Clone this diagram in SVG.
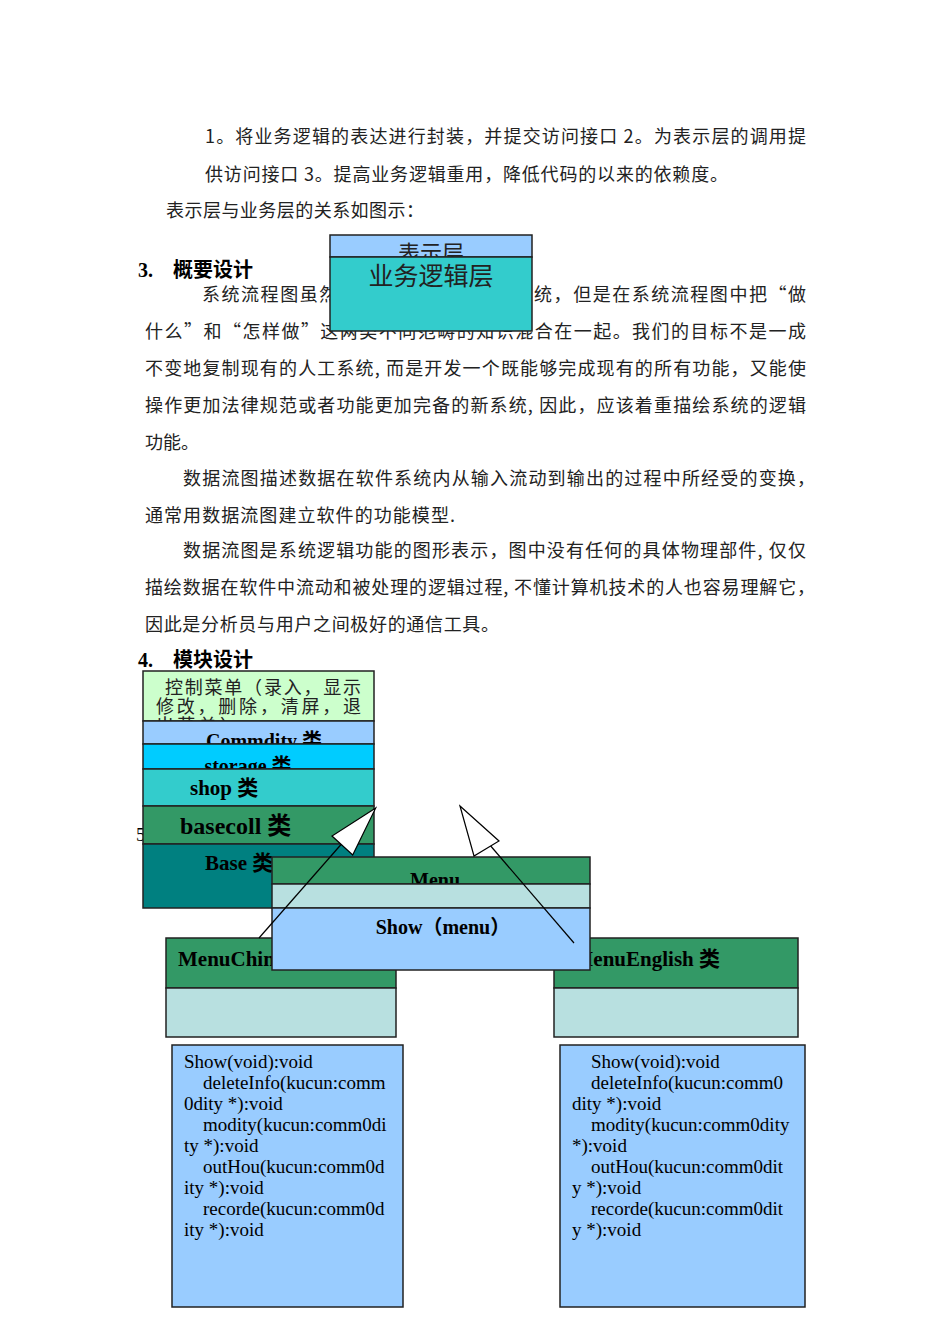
<svg xmlns="http://www.w3.org/2000/svg" width="950" height="1344" viewBox="0 0 950 1344">
<style>
.b{font-family:"Noto Sans CJK SC","Noto Sans",sans-serif;font-size:18px;fill:#222}
.h{font-family:"Liberation Serif","Noto Sans CJK SC",serif;font-size:20px;font-weight:bold;fill:#000}
.l{font-family:"Liberation Serif","Noto Sans CJK SC",serif;font-weight:bold;fill:#000}
.m{font-family:"Liberation Serif",serif;font-size:19px;fill:#000}
rect{stroke:#222;stroke-width:1.5}
.c{stroke:#000;stroke-width:1.2;fill:none}
.a{stroke:#000;stroke-width:1.2;fill:#fff}
</style>
<defs>
<clipPath id="c1"><rect x="143" y="671" width="231" height="50"/></clipPath>
<clipPath id="c2"><rect x="143" y="721" width="231" height="23"/></clipPath>
<clipPath id="c3"><rect x="143" y="744" width="231" height="25"/></clipPath>
<clipPath id="c4"><rect x="330" y="235" width="202" height="22"/></clipPath>
<clipPath id="c5"><rect x="272" y="857" width="318" height="27"/></clipPath>
</defs>
<rect width="950" height="1344" fill="#fff" style="stroke:none"/>
<g id="text">
<text class="b" x="205" y="143" textLength="601">1。将业务逻辑的表达进行封装，并提交访问接口 2。为表示层的调用提</text>
<text class="b" x="205" y="181" textLength="523">供访问接口 3。提高业务逻辑重用，降低代码的以来的依赖度。</text>
<text class="b" x="166" y="217" textLength="258">表示层与业务层的关系如图示：</text>
<text class="h" x="138" y="277">3.</text><text class="h" x="173" y="277">概要设计</text>
<text class="b" x="202" y="301" textLength="604">系统流程图虽然形象地描绘出了物理系统，但是在系统流程图中把“做</text>
<text class="b" x="145" y="338" textLength="661">什么”和“怎样做”这两类不同范畴的知识混合在一起。我们的目标不是一成</text>
<text class="b" x="145" y="375" textLength="661">不变地复制现有的人工系统, 而是开发一个既能够完成现有的所有功能，又能使</text>
<text class="b" x="145" y="412" textLength="661">操作更加法律规范或者功能更加完备的新系统, 因此，应该着重描绘系统的逻辑</text>
<text class="b" x="145" y="449">功能。</text>
<text class="b" x="183" y="485" textLength="632">数据流图描述数据在软件系统内从输入流动到输出的过程中所经受的变换，</text>
<text class="b" x="145" y="522" textLength="310">通常用数据流图建立软件的功能模型.</text>
<text class="b" x="183" y="557" textLength="623">数据流图是系统逻辑功能的图形表示，图中没有任何的具体物理部件, 仅仅</text>
<text class="b" x="145" y="594" textLength="670">描绘数据在软件中流动和被处理的逻辑过程, 不懂计算机技术的人也容易理解它，</text>
<text class="b" x="145" y="631" textLength="354">因此是分析员与用户之间极好的通信工具。</text>
<text class="h" x="138" y="667">4.</text><text class="h" x="173" y="667">模块设计</text>
<text class="m" x="136" y="841">5</text>
</g>
<g id="layers">
<rect x="330" y="235" width="202" height="22" fill="#99ccff"/>
<text class="b" x="431" y="261" style="font-size:22px" text-anchor="middle" clip-path="url(#c4)">表示层</text>
<rect x="330" y="257" width="202" height="74" fill="#33cccc"/>
<text class="b" x="431" y="285" style="font-size:25px" text-anchor="middle">业务逻辑层</text>
</g>
<g id="modules">
<rect x="143" y="671" width="231" height="50" fill="#ccffcc"/>
<g clip-path="url(#c1)">
<text class="b" x="165" y="694" textLength="196">控制菜单（录入，显示</text>
<text class="b" x="156" y="713" textLength="205">修改，删除，清屏，退</text>
<text class="b" x="156" y="732" textLength="82">出菜单）</text>
</g>
<rect x="143" y="721" width="231" height="23" fill="#99ccff"/>
<text class="l" x="264" y="748" font-size="20" text-anchor="middle" clip-path="url(#c2)">Commdity 类</text>
<rect x="143" y="744" width="231" height="25" fill="#00ccff"/>
<text class="l" x="248" y="773" font-size="20" text-anchor="middle" clip-path="url(#c3)">storage 类</text>
<rect x="143" y="769" width="231" height="37" fill="#33cccc"/>
<text class="l" x="190" y="795" font-size="21">shop 类</text>
<rect x="143" y="806" width="231" height="38" fill="#339966"/>
<text class="l" x="180" y="834" font-size="24">basecoll 类</text>
<rect x="143" y="844" width="231" height="64" fill="#008080"/>
<text class="l" x="205" y="870" font-size="21">Base 类</text>
</g>
<g id="menuChinese">
<rect x="166" y="938" width="230" height="50" fill="#339966"/>
<rect x="166" y="988" width="230" height="49" fill="#b8e0e0"/>
<text class="l" x="178" y="966" font-size="21">MenuChinese 类</text>
</g>
<g id="menuEnglish">
<rect x="554" y="938" width="244" height="50" fill="#339966"/>
<rect x="554" y="988" width="244" height="49" fill="#b8e0e0"/>
<text class="l" x="720" y="966" font-size="21" text-anchor="end">MenuEnglish 类</text>
</g>
<g id="menu">
<rect x="272" y="857" width="318" height="27" fill="#339966"/>
<text class="l" x="435" y="887" font-size="20" text-anchor="middle" clip-path="url(#c5)">Menu</text>
<rect x="272" y="884" width="318" height="24" fill="#b8e0e0"/>
<rect x="272" y="908" width="318" height="62" fill="#99ccff"/>
<text class="l" x="443" y="934" font-size="20" text-anchor="middle">Show（menu）</text>
</g>
<g id="chineseMethods">
<rect x="172" y="1045" width="231" height="262" fill="#99ccff"/>
<text class="m" x="184" y="1068">Show(void):void</text>
<text class="m" x="203" y="1089">deleteInfo(kucun:comm</text>
<text class="m" x="184" y="1110">0dity *):void</text>
<text class="m" x="203" y="1131">modity(kucun:comm0di</text>
<text class="m" x="184" y="1152">ty *):void</text>
<text class="m" x="203" y="1173">outHou(kucun:comm0d</text>
<text class="m" x="184" y="1194">ity *):void</text>
<text class="m" x="203" y="1215">recorde(kucun:comm0d</text>
<text class="m" x="184" y="1236">ity *):void</text>
</g>
<g id="englishMethods">
<rect x="560" y="1045" width="245" height="262" fill="#99ccff"/>
<text class="m" x="591" y="1068">Show(void):void</text>
<text class="m" x="591" y="1089">deleteInfo(kucun:comm0</text>
<text class="m" x="572" y="1110">dity *):void</text>
<text class="m" x="591" y="1131">modity(kucun:comm0dity</text>
<text class="m" x="572" y="1152">*):void</text>
<text class="m" x="591" y="1173">outHou(kucun:comm0dit</text>
<text class="m" x="572" y="1194">y *):void</text>
<text class="m" x="591" y="1215">recorde(kucun:comm0dit</text>
<text class="m" x="572" y="1236">y *):void</text>
</g>
<g id="connectors">
<line class="c" x1="259" y1="938" x2="345" y2="840"/>
<polygon class="a" points="375.7,808 332,836 352.7,855"/>
<line class="c" x1="574" y1="943" x2="489" y2="844"/>
<polygon class="a" points="460,806 499,841 474,856"/>
</g>
</svg>
